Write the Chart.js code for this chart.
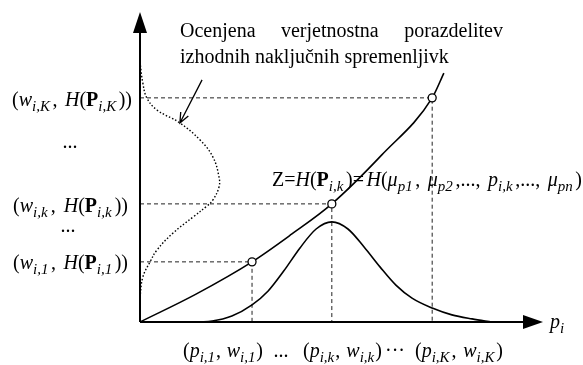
<!DOCTYPE html>
<html>
<head>
<meta charset="utf-8">
<script src="https://cdn.jsdelivr.net/npm/chart.js@4/dist/chart.umd.min.js"></script>
<style>
  html, body { margin: 0; padding: 0; background: #fff; }
</style>
</head>
<body>
<canvas id="chart" width="583" height="365"></canvas>
<script>
// sampled points p_{i,1}, p_{i,k}, p_{i,K} and their H values
var sampleP = [2.78, 4.76, 7.25]
var sampleH = [1.94, 3.81, 7.23]

// Z = H(...) curve
var curveX = [0, 1.39, 2.78, 3.77, 4.76, 6.00, 7.25, 7.54]
var curveY = [0, 0.90, 1.94, 2.84, 3.81, 5.39, 7.23, 8.03]

// input distribution of p_i
var pdfX = [0.79, 1.29, 1.79, 2.28, 2.78, 3.18, 3.57, 3.97, 4.37, 4.76, 5.16, 5.56, 5.96, 6.35, 6.75, 7.25, 7.74, 8.24, 8.73]
var pdfY = [0, 0, 0.03, 0.19, 0.55, 1.00, 1.65, 2.39, 3.00, 3.23, 3.00, 2.42, 1.77, 1.19, 0.77, 0.45, 0.23, 0.10, 0]

// estimated output distribution (drawn along the vertical axis)
var outDens = [0, 0.07, 0.17, 0.42, 0.99, 1.49, 1.81, 1.96, 1.96, 1.81, 1.66, 1.32, 0.82, 0.42, 0.25, 0.07, 0]
var outLevel = [8.39, 7.71, 7.23, 6.84, 6.42, 5.87, 5.32, 4.68, 4.35, 3.94, 3.74, 3.39, 2.87, 2.32, 1.94, 1.45, 0.81]

// annotation arrow (from text to the dotted curve)
var noteX = [1.54, 0.99]
var noteY = [7.81, 6.42]

var FONT = '"Liberation Serif", "Times New Roman", serif'

function pts(xs, ys) {
    return xs.map(function (x, i) { return { x: x, y: ys[i] } })
}

var guides = sampleP.map(function (p, i) {
    return {
        data: [{ x: 0, y: sampleH[i] }, { x: p, y: sampleH[i] }, { x: p, y: 0 }],
        showLine: true,
        borderColor: '#222',
        borderWidth: 1,
        borderDash: [4, 3],
        pointRadius: 0,
        tension: 0,
        clip: false
    }
})

// text helpers
function N(t) { return { t: t } }
function I(t) { return { t: t, i: true } }
function B(t) { return { t: t, b: true } }
function S(t) { return { t: t, i: true, sub: true } }

function runFont(r) {
    return (r.i ? 'italic ' : '') + (r.b ? 'bold ' : '') + (r.sub ? 15 : 20) + 'px ' + FONT
}
// stretchable runs: subscripts and separators
function loose(r) { return r.sub || r.t.indexOf(',') >= 0 || r.t === ')=' }
// draws runs from x to x+width (leftover goes after the loose runs)
function drawRich(ctx, runs, x, y, width) {
    var natural = 0, n = 0
    runs.forEach(function (r, i) {
        ctx.font = runFont(r)
        natural += ctx.measureText(r.t).width
        if (loose(r) && i < runs.length - 1) n++
    })
    var extra = width && n ? (width - natural) / n : 0
    runs.forEach(function (r) {
        ctx.font = runFont(r)
        ctx.fillText(r.t, x, y + (r.sub ? 5 : 0))
        x += ctx.measureText(r.t).width + (loose(r) ? extra : 0)
    })
}

var labelK = [N('('), I('w'), S('i,K'), N(', '), I('H'), N('('), B('P'), S('i,K'), N('))')]
var labelk = [N('('), I('w'), S('i,k'), N(', '), I('H'), N('('), B('P'), S('i,k'), N('))')]
var label1 = [N('('), I('w'), S('i,1'), N(', '), I('H'), N('('), B('P'), S('i,1'), N('))')]
var bottom1 = [N('('), I('p'), S('i,1'), N(', '), I('w'), S('i,1'), N(')')]
var bottomk = [N('('), I('p'), S('i,k'), N(', '), I('w'), S('i,k'), N(')')]
var bottomK = [N('('), I('p'), S('i,K'), N(', '), I('w'), S('i,K'), N(')')]
var zLabel = [N('Z'), N('='), I('H'), N('('), B('P'), S('i,k'), N(')='), I('H'), N('('),
    I('μ'), S('p1'), N(', '), I('μ'), S('p2'), N(',..., '), I('p'), S('i,k'), N(',..., '),
    I('μ'), S('pn'), N(')')]
var axisLabel = [I('p'), S('i')]

var drawing = {
    id: 'drawing',
    afterDraw: function (chart) {
        var ctx = chart.ctx
        var xs = chart.scales.x
        var ys = chart.scales.y
        var x0 = xs.getPixelForValue(0)
        var y0 = ys.getPixelForValue(0)
        var xTip = xs.getPixelForValue(10)
        var yTip = ys.getPixelForValue(10)
        ctx.save()
        ctx.strokeStyle = '#000'
        ctx.fillStyle = '#000'
        // axes
        ctx.lineWidth = 2
        ctx.beginPath()
        ctx.moveTo(x0, y0)
        ctx.lineTo(x0, yTip + 18)
        ctx.moveTo(x0, y0)
        ctx.lineTo(xTip - 18, y0)
        ctx.stroke()
        ctx.beginPath()
        ctx.moveTo(x0, yTip)
        ctx.lineTo(x0 - 7, yTip + 21)
        ctx.lineTo(x0 + 7, yTip + 21)
        ctx.closePath()
        ctx.fill()
        ctx.beginPath()
        ctx.moveTo(xTip, y0)
        ctx.lineTo(xTip - 20, y0 - 7)
        ctx.lineTo(xTip - 20, y0 + 7)
        ctx.closePath()
        ctx.fill()

        // annotation arrow
        var ax = xs.getPixelForValue(noteX[0]), ay = ys.getPixelForValue(noteY[0])
        var bx = xs.getPixelForValue(noteX[1]), by = ys.getPixelForValue(noteY[1])
        var ang = Math.atan2(by - ay, bx - ax)
        ctx.lineWidth = 1.3
        ctx.beginPath()
        ctx.moveTo(ax, ay)
        ctx.lineTo(bx, by)
        ctx.moveTo(bx - 11 * Math.cos(ang - 0.4), by - 11 * Math.sin(ang - 0.4))
        ctx.lineTo(bx, by)
        ctx.lineTo(bx - 11 * Math.cos(ang + 0.4), by - 11 * Math.sin(ang + 0.4))
        ctx.stroke()

        // texts
        ctx.textBaseline = 'alphabetic'
        ctx.font = '20px ' + FONT
        var words = ['Ocenjena', 'verjetnostna', 'porazdelitev']
        var total = words.reduce(function (s, w) { return s + ctx.measureText(w).width }, 0)
        var gap = (503 - 180 - total) / 2
        var wx = 180
        words.forEach(function (w) {
            ctx.fillText(w, wx, 37)
            wx += ctx.measureText(w).width + gap
        })
        ctx.fillText('izhodnih naključnih spremenljivk', 180, 63)

        drawRich(ctx, labelK, 12, 106, 120)
        drawRich(ctx, labelk, 13, 212, 115)
        drawRich(ctx, label1, 13, 269, 115)
        ctx.font = '20px ' + FONT
        ctx.textAlign = 'center'
        ctx.fillText('...', 70, 148)
        ctx.fillText('...', 68, 232)
        ctx.fillText('...', 281, 357)
        ctx.fillText('···', 395, 357)
        ctx.textAlign = 'left'
        drawRich(ctx, bottom1, 183, 357, 80)
        drawRich(ctx, bottomk, 303, 357, 79)
        drawRich(ctx, bottomK, 415, 357, 88)
        drawRich(ctx, zLabel, 272, 186, 310)
        drawRich(ctx, axisLabel, 550, 328)
        ctx.restore()
    }
}

var datasets = [{
    data: pts(sampleP, sampleH),
    showLine: false,
    pointRadius: 4,
    pointBackgroundColor: '#fff',
    pointBorderColor: '#000',
    pointBorderWidth: 1.3,
    clip: false
}, {
    data: pts(curveX, curveY),
    showLine: true,
    borderColor: '#000',
    borderWidth: 1.6,
    pointRadius: 0,
    cubicInterpolationMode: 'monotone',
    clip: false
}, {
    data: pts(pdfX, pdfY),
    showLine: true,
    borderColor: '#000',
    borderWidth: 1.6,
    pointRadius: 0,
    cubicInterpolationMode: 'monotone',
    clip: false
}, {
    data: pts(outDens, outLevel),
    showLine: true,
    borderColor: '#000',
    borderWidth: 1.4,
    borderDash: [1.5, 2],
    pointRadius: 0,
    tension: 0.4,
    clip: false
}].concat(guides)

var CHART = new Chart(document.getElementById('chart'), {
    type: 'scatter',
    data: { datasets: datasets },
    options: {
        responsive: false,
        animation: false,
        events: [],
        layout: { padding: { left: 140, right: 40, top: 12, bottom: 43 } },
        plugins: { legend: { display: false }, tooltip: { enabled: false } },
        scales: {
            x: { display: false, min: 0, max: 10 },
            y: { display: false, min: 0, max: 10 }
        }
    },
    plugins: [drawing]
})
</script>
</body>
</html>
